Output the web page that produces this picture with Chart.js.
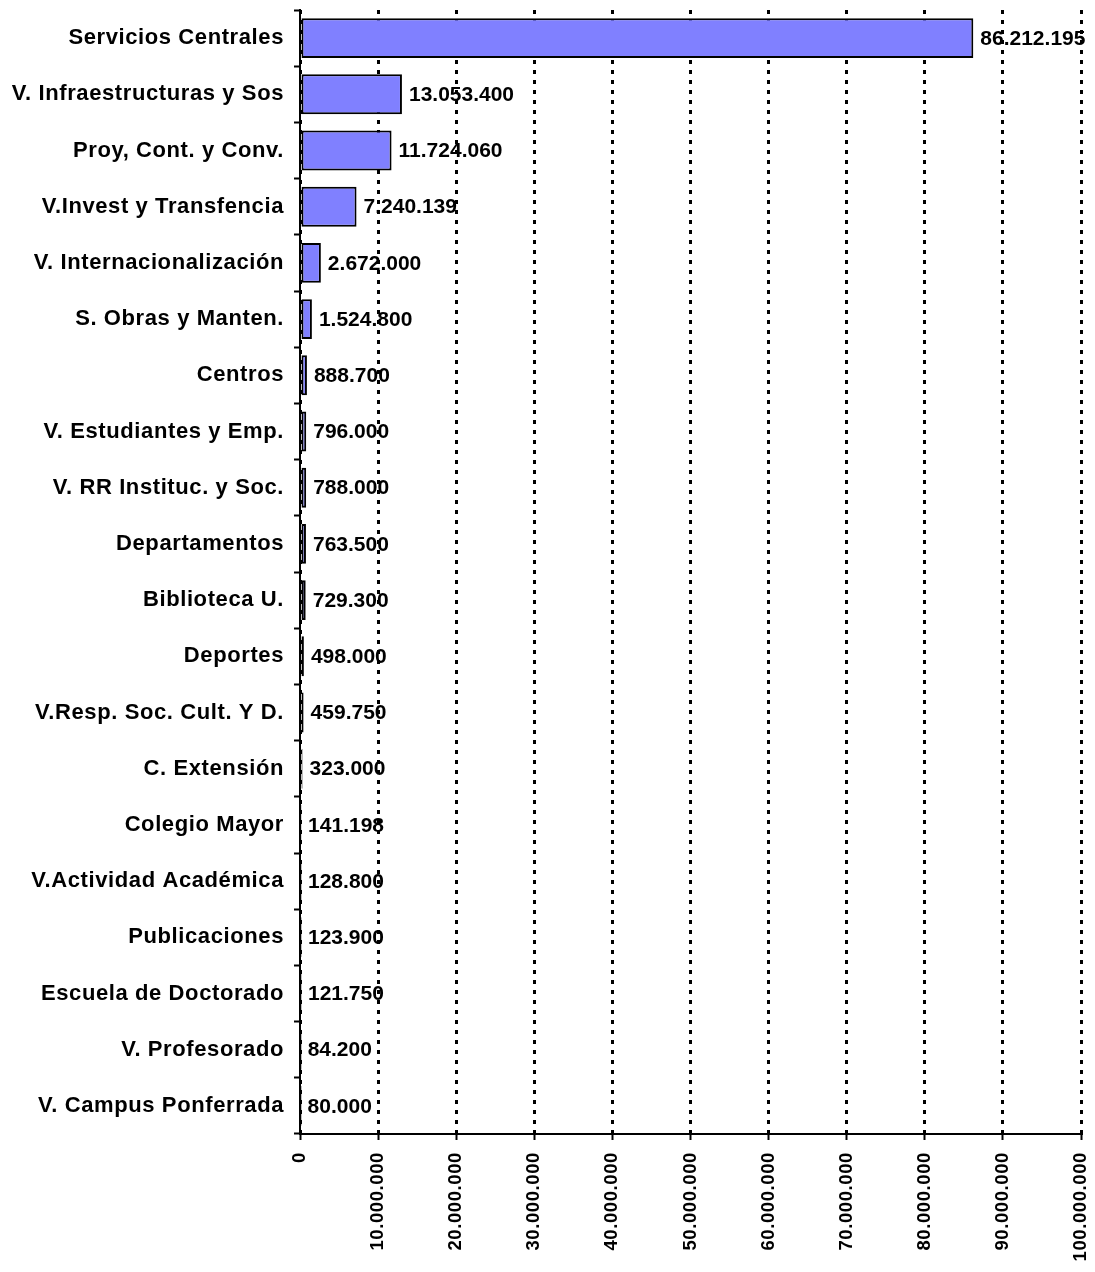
<!DOCTYPE html>
<html>
<head>
<meta charset="utf-8">
<script src="https://cdn.jsdelivr.net/npm/chart.js@4/dist/chart.umd.min.js"></script>
<style>
  html, body { margin: 0; padding: 0; background: #fff; }
  #wrap { width: 1095px; height: 1272px; position: relative; }
</style>
</head>
<body>
<div id="wrap"><canvas id="gastoChart"></canvas></div>
<script>
const categories = [
  'Servicios Centrales',
  'V. Infraestructuras y Sos',
  'Proy, Cont. y Conv.',
  'V.Invest y Transfencia',
  'V. Internacionalización',
  'S. Obras y Manten.',
  'Centros',
  'V. Estudiantes y Emp.',
  'V. RR Instituc. y Soc.',
  'Departamentos',
  'Biblioteca U.',
  'Deportes',
  'V.Resp. Soc. Cult. Y D.',
  'C. Extensión',
  'Colegio Mayor',
  'V.Actividad Académica',
  'Publicaciones',
  'Escuela de Doctorado',
  'V. Profesorado',
  'V. Campus Ponferrada'
];
const importes = [
  86212195, 13053400, 11724060, 7240139, 2672000, 1524800, 888700, 796000,
  788000, 763500, 729300, 498000, 459750, 323000, 141198, 128800, 123900,
  121750, 84200, 80000
];
const xMin = 0;
const xMax = 100000000;
const xStep = 10000000;

const FONT = "'Liberation Sans', Arial, sans-serif";

function fmt(v) {
  return String(v).replace(/\B(?=(\d{3})+(?!\d))/g, '.');
}

// un poco de espaciado entre letras, como en el original
const spacing = {
  id: 'spacing',
  beforeInit(chart) { chart.ctx.letterSpacing = '0.6px'; },
  beforeUpdate(chart) { chart.ctx.letterSpacing = '0.6px'; }
};

// etiquetas de valor a la derecha de cada barra
const valueLabels = {
  id: 'valueLabels',
  beforeDraw(chart) {
    const ctx = chart.ctx;
    const meta = chart.getDatasetMeta(0);
    ctx.save();
    ctx.letterSpacing = '0px';
    ctx.font = 'bold 21px ' + FONT;
    ctx.fillStyle = '#000';
    ctx.textAlign = 'left';
    ctx.textBaseline = 'middle';
    meta.data.forEach((bar, i) => {
      ctx.fillText(fmt(importes[i]), bar.x + 7, bar.y + 1);
    });
    ctx.restore();
  }
};

const ctx = document.getElementById('gastoChart').getContext('2d');
new Chart(ctx, {
  type: 'bar',
  data: {
    labels: categories,
    datasets: [{
      data: importes,
      backgroundColor: '#8080FF',
      borderColor: '#000',
      borderWidth: 2,
      borderSkipped: false,
      barPercentage: 0.71,
      categoryPercentage: 1
    }]
  },
  options: {
    indexAxis: 'y',
    responsive: true,
    maintainAspectRatio: false,
    animation: false,
    layout: { padding: { top: 10, right: 14, bottom: 0, left: 0 } },
    plugins: {
      legend: { display: false },
      tooltip: { enabled: false }
    },
    scales: {
      x: {
        min: xMin,
        max: xMax,
        afterFit(scale) {
          scale.height = 138;
          scale.paddingLeft = 0;
          scale.paddingRight = 0;
        },
        grid: {
          color: '#000',
          lineWidth: 3,
          tickLength: 6,
          tickWidth: 2,
          tickColor: '#000'
        },
        border: { display: true, color: '#000', width: 2, dash: [4, 6] },
        ticks: {
          stepSize: xStep,
          minRotation: 90,
          maxRotation: 90,
          padding: 12,
          color: '#000',
          font: { family: FONT, size: 18.5, weight: 'bold' },
          callback: (v) => fmt(v)
        }
      },
      y: {
        afterFit(scale) {
          scale.width = 300;
          scale.paddingTop = 0;
          scale.paddingBottom = 0;
        },
        grid: {
          drawOnChartArea: false,
          drawTicks: true,
          tickLength: 6,
          tickWidth: 2,
          color: '#000',
          offset: true
        },
        border: { display: true, color: '#000', width: 2 },
        ticks: {
          padding: 10,
          color: '#000',
          font: { family: FONT, size: 22, weight: 'bold' }
        }
      }
    }
  },
  plugins: [spacing, valueLabels]
});
</script>
</body>
</html>
